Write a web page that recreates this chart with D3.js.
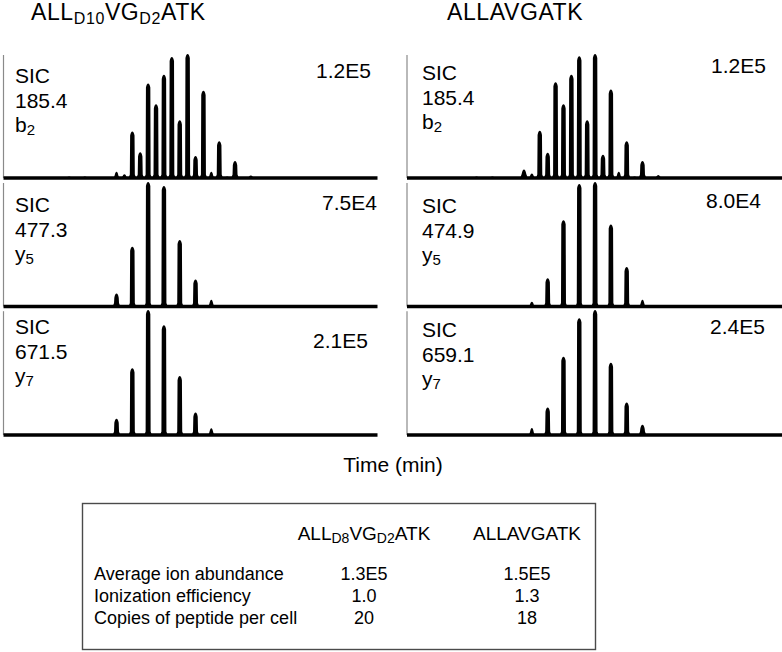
<!DOCTYPE html>
<html>
<head>
<meta charset="utf-8">
<script src="https://cdn.jsdelivr.net/npm/d3@7"></script>
<style>
  html, body { margin: 0; padding: 0; background: #fff; }
  svg { display: block; }
  text { font-family: "Liberation Sans", Arial, Helvetica, sans-serif; fill: #000; }
</style>
</head>
<body>
<svg id="chart" width="782" height="652"></svg>
<script>
// ---------------- DATA ----------------
// peptide names (segments: [text, isSubscript])
const heavyTitle = [["ALL", 0], ["D10", 1], ["VG", 0], ["D2", 1], ["ATK", 0]];
const lightTitle = [["ALLAVGATK", 0]];
const tableHeavyTitle = [["ALL", 0], ["D8", 1], ["VG", 0], ["D2", 1], ["ATK", 0]];

// ion labels (rows)
const ionNames = [["b", "2"], ["y", "5"], ["y", "7"]];
const heavyMz = ["185.4", "477.3", "671.5"];
const lightMz = ["185.4", "474.9", "659.1"];
const heavyMax = ["1.2E5", "7.5E4", "2.1E5"];
const lightMax = ["1.2E5", "8.0E4", "2.4E5"];

// selected ion chromatograms: scan index and relative intensity (% of panel max)
const scansB2 = [0, 2, 4, 6, 8, 9, 10, 11, 12, 13, 14, 15, 16, 17, 18, 19, 20, 21, 22, 23, 25];
const heavyB2 = [0.3, 0.8, 0.8, 0.5, 4.7, 2.7, 37, 20, 76, 59, 83, 97.5, 46, 100, 17, 70, 4.7, 29, 0.8, 13, 1.6];
const lightB2 = [0.4, 0.8, 0.8, 0.5, 6, 3.3, 37.5, 19.7, 77, 59, 83, 98, 46, 100, 18, 71, 4.7, 29, 0.8, 13, 2];

const scansHeavyY = [0, 2, 4, 6, 8, 10, 12, 14, 16, 18, 20, 22];
const heavyY5 = [0.4, 0.5, 0.5, 0.4, 9.6, 47.5, 100, 96.7, 53, 21, 5, 0.5];
const heavyY7 = [0.4, 0.5, 0.4, 0.4, 12.3, 53, 100, 87.7, 46.7, 17.2, 5, 0.5];

const scansLightY = [7, 9, 11, 13, 15, 17, 19, 21, 23, 25];
const lightY5 = [0.5, 3.5, 22, 69, 98.4, 100, 65.6, 31, 5, 0.5];
const lightY7 = [0.5, 5.2, 21.3, 62.3, 93.4, 100, 57.4, 25.4, 7.4, 0.5];

// summary table
const tableRowLabels = ["Average ion abundance", "Ionization efficiency", "Copies of peptide per cell"];
const tableHeavyValues = ["1.3E5", "1.0", "20"];
const tableLightValues = ["1.5E5", "1.3", "18"];
const xAxisLabel = "Time (min)";

// ---------------- LAYOUT ----------------
const svg = d3.select("#chart");

const columns = [
  { title: heavyTitle, titleX: 31, x0: 3, x1: 377, domain: [-6.37, 40.97], labelX: 15,
    mz: heavyMz, max: heavyMax,
    series: [[scansB2, heavyB2], [scansHeavyY, heavyY5], [scansHeavyY, heavyY7]],
    sicBase: [83, 212, 334], maxX: [371, 377, 368], maxY: [78, 210, 348] },
  { title: lightTitle, titleX: 447, x0: 406.5, x1: 782, domain: [-6.87, 40.66], labelX: 422,
    mz: lightMz, max: lightMax,
    series: [[scansB2, lightB2], [scansLightY, lightY5], [scansLightY, lightY7]],
    sicBase: [80, 213, 337], maxX: [766, 761, 765], maxY: [73, 208, 334] }
];
const rows = [
  { base: 177.5, top: 54.5 },
  { base: 306, top: 182.5 },
  { base: 434.5, top: 310.7 }
];

function segText(sel, segs, mainSize, subSize, subDy, spacing) {
  segs.forEach(([t, sub]) => {
    sel.append("tspan")
      .attr("font-size", sub ? subSize : mainSize)
      .attr("baseline-shift", sub ? -subDy : 0)
      .attr("letter-spacing", spacing || 0)
      .text(t);
  });
}

function peakPath(x, b, t) {
  const h = b - t;
  if (h < 7) {
    const w = 3.4;
    return `M${x - w},${b} C${x - w * 0.45},${b} ${x - 1.8},${t} ${x},${t} C${x + 1.8},${t} ${x + w * 0.45},${b} ${x + w},${b} Z`;
  }
  return `M${x - 3.6},${b} L${x - 2.5},${b - 3} L${x - 2.2},${t + 3.5} Q${x - 1.4},${t - 0.6} ${x},${t - 0.6} Q${x + 1.4},${t - 0.6} ${x + 2.2},${t + 3.5} L${x + 2.5},${b - 3} L${x + 3.6},${b} Z`;
}

columns.forEach(col => {
  // column title
  const tt = svg.append("text").attr("x", col.titleX).attr("y", 19.5);
  segText(tt, col.title, 23, 16, 3.5, 0.6);

  const x = d3.scaleLinear().domain(col.domain).range([col.x0, col.x1]);

  rows.forEach((r, i) => {
    const y = d3.scaleLinear().domain([0, 100]).range([r.base, r.top]);
    const g = svg.append("g");

    // vertical axis (thin gray)
    g.append("g")
      .attr("transform", `translate(${col.x0},0)`)
      .call(d3.axisLeft(y).ticks(0).tickSize(0).tickSizeOuter(0))
      .call(a => a.select(".domain").attr("stroke", "#8a8a8a").attr("stroke-width", 1.2))
      .call(a => a.selectAll("text").remove());

    // peaks
    const [scans, vals] = col.series[i];
    g.selectAll("path.peak")
      .data(scans.map((s, k) => ({ s, v: vals[k] })))
      .join("path")
      .attr("class", "peak")
      .attr("d", d => peakPath(x(d.s), y(0), y(d.v)))
      .attr("fill", "#000");

    // baseline (time axis)
    g.append("g")
      .attr("transform", `translate(0,${y(0)})`)
      .call(d3.axisBottom(x).ticks(0).tickSize(0).tickSizeOuter(0))
      .call(a => a.select(".domain").attr("stroke", "#000").attr("stroke-width", 3.6))
      .call(a => a.selectAll("text").remove());

    // labels
    const lx = col.labelX, sb = col.sicBase[i];
    g.append("text").attr("x", lx).attr("y", sb).attr("font-size", 21).text("SIC");
    g.append("text").attr("x", lx).attr("y", sb + 24.5).attr("font-size", 21).text(col.mz[i]);
    const ion = g.append("text").attr("x", lx).attr("y", sb + 49).attr("font-size", 21);
    ion.append("tspan").text(ionNames[i][0]);
    ion.append("tspan").attr("font-size", 15).attr("baseline-shift", -3).text(ionNames[i][1]);

    g.append("text").attr("x", col.maxX[i]).attr("y", col.maxY[i])
      .attr("text-anchor", "end").attr("font-size", 21).text(col.max[i]);
  });
});

// shared x-axis label
svg.append("text").attr("x", 393).attr("y", 472).attr("text-anchor", "middle")
  .attr("font-size", 21).text(xAxisLabel);

// ---------------- TABLE ----------------
const tbl = svg.append("g");
tbl.append("rect").attr("x", 82.5).attr("y", 503.5).attr("width", 513).attr("height", 146)
  .attr("fill", "none").attr("stroke", "#4a4a4a").attr("stroke-width", 1.4);

const colCenters = [364, 527];
const h1 = tbl.append("text").attr("x", colCenters[0]).attr("y", 540).attr("text-anchor", "middle");
segText(h1, tableHeavyTitle, 19, 14, 3, 0);
const h2 = tbl.append("text").attr("x", colCenters[1]).attr("y", 540).attr("text-anchor", "middle");
segText(h2, lightTitle, 19, 14, 3, 0);

const rowY = d3.scalePoint().domain(tableRowLabels).range([580, 624]);
tbl.selectAll("text.lab").data(tableRowLabels).join("text").attr("class", "lab")
  .attr("x", 94).attr("y", d => rowY(d)).attr("font-size", 18).text(d => d);
tbl.selectAll("text.hv").data(tableHeavyValues).join("text").attr("class", "hv")
  .attr("x", colCenters[0]).attr("y", (d, i) => rowY(tableRowLabels[i]))
  .attr("text-anchor", "middle").attr("font-size", 18).text(d => d);
tbl.selectAll("text.lv").data(tableLightValues).join("text").attr("class", "lv")
  .attr("x", colCenters[1]).attr("y", (d, i) => rowY(tableRowLabels[i]))
  .attr("text-anchor", "middle").attr("font-size", 18).text(d => d);
</script>
</body>
</html>
